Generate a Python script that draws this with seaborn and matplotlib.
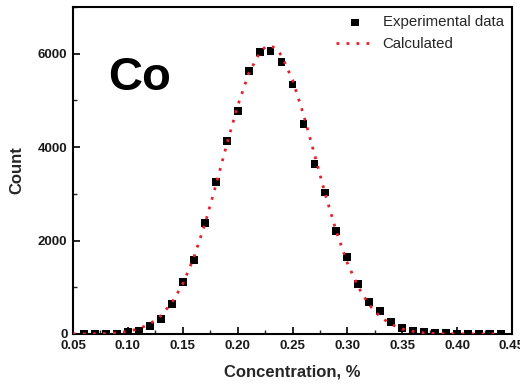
import numpy as np
import pandas as pd
import matplotlib
matplotlib.use("Agg")
import matplotlib.pyplot as plt
from matplotlib.ticker import MultipleLocator, FormatStrFormatter
import seaborn as sns

# Measured histogram of Co concentration
exp_conc = [0.06, 0.07, 0.08, 0.09, 0.10, 0.11, 0.12, 0.13, 0.14, 0.15,
            0.16, 0.17, 0.18, 0.19, 0.20, 0.21, 0.22, 0.23, 0.24, 0.25,
            0.26, 0.27, 0.28, 0.29, 0.30, 0.31, 0.32, 0.33, 0.34, 0.35,
            0.36, 0.37, 0.38, 0.39, 0.40, 0.41, 0.42, 0.43, 0.44]
exp_count = [5, 5, 5, 10, 40, 70, 170, 320, 650, 1120,
             1590, 2370, 3260, 4130, 4770, 5630, 6030, 6060, 5830, 5340,
             4500, 3640, 3030, 2210, 1640, 1070, 690, 490, 260, 120,
             65, 45, 20, 15, 10, 5, 5, 5, 5]

# Calculated distribution
calc_conc = [0.05, 0.06, 0.07, 0.08, 0.09, 0.10, 0.11, 0.12, 0.13, 0.14,
             0.15, 0.16, 0.17, 0.18, 0.19, 0.20, 0.21, 0.22, 0.225, 0.23,
             0.235, 0.24, 0.25, 0.26, 0.27, 0.28, 0.29, 0.30, 0.31, 0.32,
             0.33, 0.34, 0.35, 0.36, 0.37, 0.38, 0.39, 0.40, 0.41, 0.42,
             0.43, 0.44]
calc_count = [0, 1, 4, 10, 24, 55, 112, 215, 390, 665,
              1070, 1630, 2340, 3170, 4050, 4880, 5570, 6020, 6140, 6170,
              6110, 5960, 5440, 4700, 3850, 2980, 2190, 1520, 1000, 620,
              365, 205, 108, 54, 25, 11, 5, 2, 1, 0,
              0, 0]

exp_df = pd.DataFrame({"conc": exp_conc, "count": exp_count})
calc_df = pd.DataFrame({"conc": calc_conc, "count": calc_count})

sns.set_style("ticks")
plt.rcParams["font.family"] = ["Liberation Sans", "DejaVu Sans"]

fig = plt.figure(figsize=(5.2, 3.88), dpi=100)
ax = fig.add_axes([0.1404, 0.1392, 0.8442, 0.8428])

sns.lineplot(data=calc_df, x="conc", y="count", ax=ax, color="#e3232c",
             linewidth=2.0, linestyle=(0, (1, 2.6)), label="Calculated",
             zorder=3)
sns.scatterplot(data=exp_df, x="conc", y="count", ax=ax, marker="s",
                s=32, color="black", edgecolor="none",
                label="Experimental data", zorder=2)

ax.set_xlim(0.05, 0.45)
ax.set_ylim(0, 7000)
ax.xaxis.set_major_locator(MultipleLocator(0.05))
ax.xaxis.set_minor_locator(MultipleLocator(0.025))
ax.xaxis.set_major_formatter(FormatStrFormatter("%.2f"))
ax.yaxis.set_major_locator(MultipleLocator(2000))
ax.yaxis.set_minor_locator(MultipleLocator(1000))
ax.tick_params(which="major", direction="in", length=5, width=1.2,
               labelsize=9.5, pad=4, colors="black")
ax.tick_params(which="minor", direction="in", length=3, width=1.0)
for lab in ax.get_xticklabels() + ax.get_yticklabels():
    lab.set_fontweight("bold")
    lab.set_color("#1a1a1a")

for sp in ax.spines.values():
    sp.set_visible(True)
    sp.set_linewidth(1.5)
    sp.set_color("black")

ax.set_xlabel("Concentration, %", fontsize=12, fontweight="bold", labelpad=9)
ax.set_ylabel("Count", fontsize=12, fontweight="bold", labelpad=10)

ax.text(0.08, 0.745, "Co", transform=ax.transAxes, fontsize=34,
        fontweight="bold", color="black", ha="left", va="baseline")

handles, labels = ax.get_legend_handles_labels()
order = [labels.index("Experimental data"), labels.index("Calculated")]
ax.legend([handles[i] for i in order], [labels[i] for i in order],
          loc="upper right", frameon=False, fontsize=10.8,
          handlelength=2.5, handletextpad=0.6, labelspacing=0.55,
          borderaxespad=0.15, markerscale=0.9)

fig.savefig("out.png", dpi=100)
